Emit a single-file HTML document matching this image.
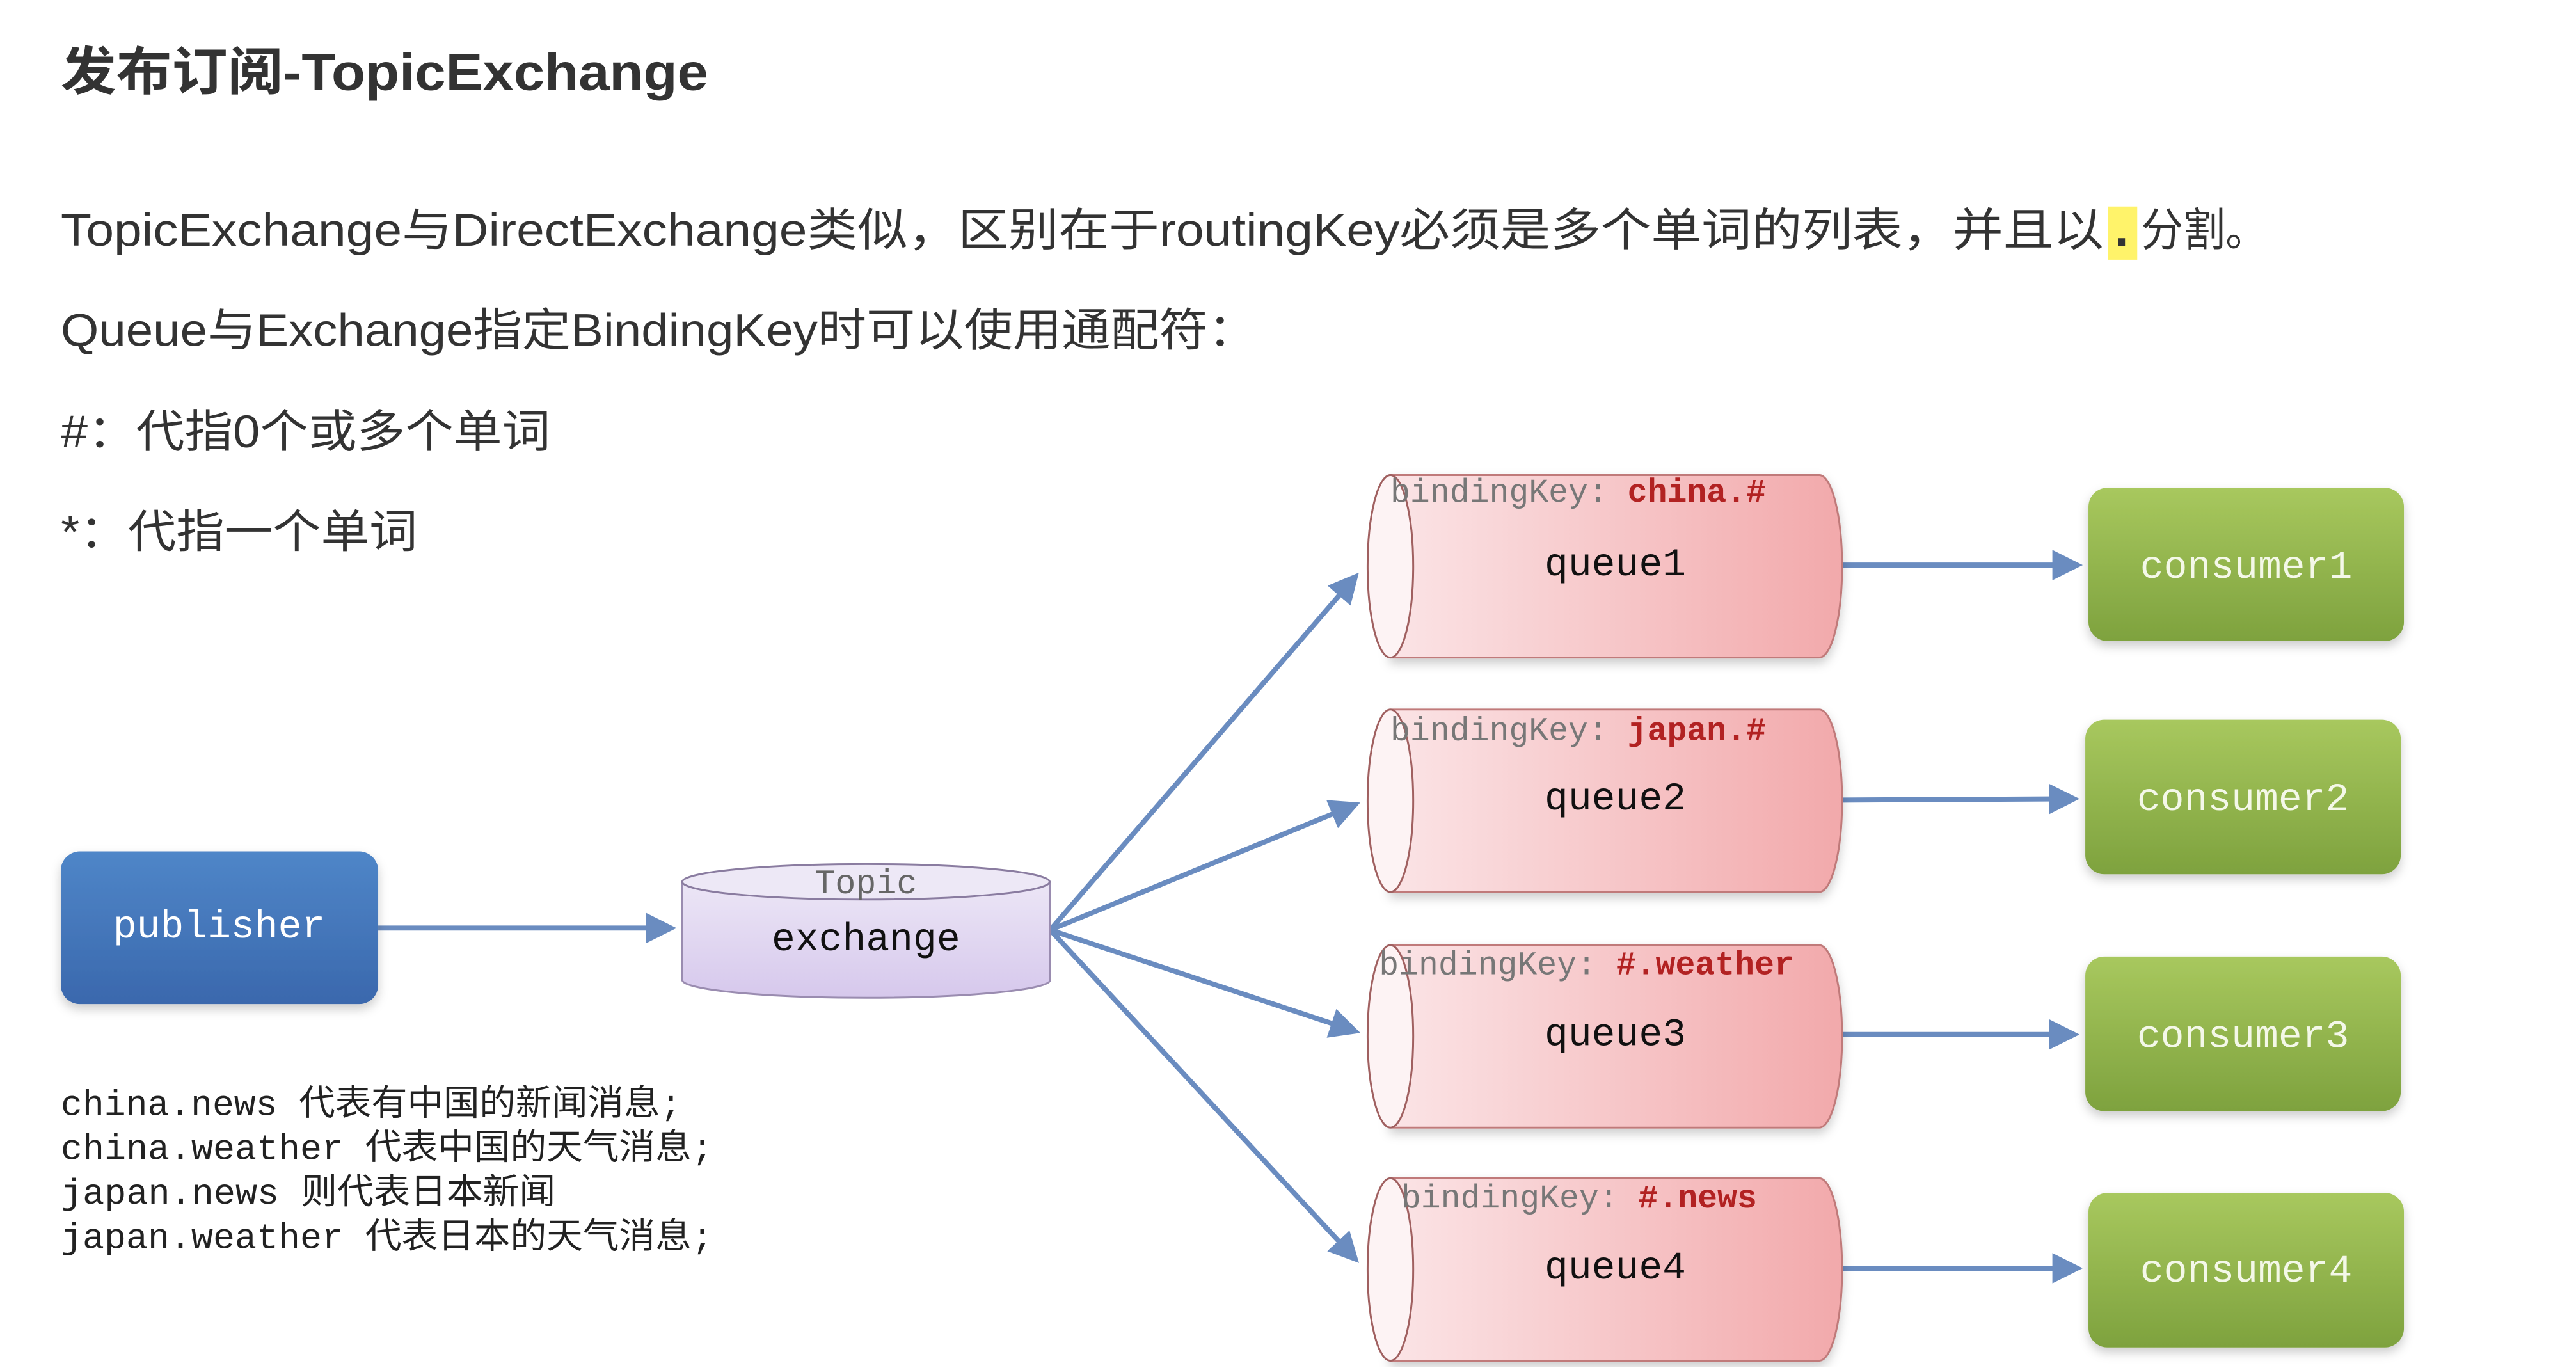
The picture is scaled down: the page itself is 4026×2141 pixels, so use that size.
<!DOCTYPE html>
<html><head><meta charset="utf-8"><style>
html,body{margin:0;padding:0;background:#fff;}
body{width:4026px;height:2136px;overflow:hidden;}
</style></head><body>
<svg width="4026" height="2136" viewBox="0 0 4026 2136" xmlns="http://www.w3.org/2000/svg">
<defs>
<linearGradient id="pub" x1="0" y1="0" x2="0" y2="1"><stop offset="0" stop-color="#4f86c8"/><stop offset="1" stop-color="#3a68ad"/></linearGradient>
<linearGradient id="grn" x1="0" y1="0" x2="0" y2="1"><stop offset="0" stop-color="#a8c85e"/><stop offset="1" stop-color="#7ea23e"/></linearGradient>
<linearGradient id="q" x1="0" y1="0" x2="1" y2="0"><stop offset="0" stop-color="#fbe4e6"/><stop offset="1" stop-color="#f2a9ab"/></linearGradient>
<linearGradient id="ex" x1="0" y1="0" x2="0" y2="1"><stop offset="0" stop-color="#ece6f6"/><stop offset="1" stop-color="#d6c8ec"/></linearGradient>
<marker id="ah" markerWidth="6" markerHeight="6" refX="5" refY="3" orient="auto" markerUnits="strokeWidth"><path d="M0,0 L6,3 L0,6 z" fill="#6a8cc0"/></marker>
<filter id="sh" x="-10%" y="-10%" width="120%" height="130%"><feDropShadow dx="0" dy="8" stdDeviation="8" flood-color="#000" flood-opacity="0.2"/></filter>
</defs>
<g transform="scale(0.99)">
<g font-family="'Liberation Sans','Noto Sans CJK SC',sans-serif" fill="#333">
<text x="96" y="142" font-size="82" font-weight="bold" textLength="1022" lengthAdjust="spacingAndGlyphs">发布订阅-TopicExchange</text>
<rect x="3328" y="326" width="46" height="84" fill="#fff36a"/>
<text x="96" y="388" font-size="72" textLength="3225" lengthAdjust="spacingAndGlyphs">TopicExchange与DirectExchange类似，区别在于routingKey必须是多个单词的列表，并且以</text>
<text x="3338" y="388" font-size="80" font-weight="bold">.</text>
<text x="3380" y="388" font-size="72" textLength="200" lengthAdjust="spacingAndGlyphs">分割。</text>
<text x="96" y="546" font-size="72" textLength="1888" lengthAdjust="spacingAndGlyphs">Queue与Exchange指定BindingKey时可以使用通配符：</text>
<text x="96" y="706" font-size="72" textLength="773" lengthAdjust="spacingAndGlyphs">#：代指0个或多个单词</text>
<text x="96" y="864" font-size="72" textLength="563" lengthAdjust="spacingAndGlyphs">*：代指一个单词</text>
</g>
<g stroke="#6a8cc0" stroke-width="8" fill="none" marker-end="url(#ah)">
<line x1="597" y1="1465" x2="1060" y2="1465"/>
<line x1="1658" y1="1468" x2="2140" y2="910"/>
<line x1="1658" y1="1468" x2="2140" y2="1270"/>
<line x1="1658" y1="1468" x2="2140" y2="1628"/>
<line x1="1658" y1="1468" x2="2140" y2="1988"/>
<line x1="2908" y1="892" x2="3280" y2="892"/>
<line x1="2908" y1="1263" x2="3275" y2="1261"/>
<line x1="2908" y1="1633" x2="3275" y2="1633"/>
<line x1="2908" y1="2002" x2="3280" y2="2002"/>
</g>
<rect x="96" y="1344" width="501" height="241" rx="30" fill="url(#pub)" filter="url(#sh)"/>
<text x="346" y="1480" font-family="'Liberation Mono',monospace" font-size="62" fill="#fff" text-anchor="middle">publisher</text>
<g>
<path d="M1077,1392 L1077,1547 A290,28 0 0 0 1658,1547 L1658,1392 Z" fill="url(#ex)" stroke="#9a8cb0" stroke-width="3"/>
<ellipse cx="1367" cy="1392" rx="290" ry="28" fill="#ede8f6" stroke="#8a7ca0" stroke-width="3"/>
<text x="1367" y="1410" font-family="'Liberation Mono',monospace" font-size="54" fill="#666" text-anchor="middle">Topic</text>
<text x="1367" y="1500" font-family="'Liberation Mono',monospace" font-size="62" fill="#111" text-anchor="middle">exchange</text>
</g>
<g font-family="'Liberation Mono',monospace">
<g transform="translate(0,750)">
<path d="M2195,0 L2872,0 A36,144 0 0 1 2872,288 L2195,288 Z" fill="url(#q)" stroke="#c07a7a" stroke-width="3" filter="url(#sh)"/>
<ellipse cx="2195" cy="144" rx="36" ry="144" fill="#fdf3f4" stroke="#a06060" stroke-width="3"/>
<text x="2195" y="42" font-size="52" fill="#777">bindingKey: <tspan fill="#b22222" font-weight="bold">china.#</tspan></text>
<text x="2550" y="158" font-size="62" fill="#111" text-anchor="middle">queue1</text>
</g>
<g transform="translate(0,1120)">
<path d="M2195,0 L2872,0 A36,144 0 0 1 2872,288 L2195,288 Z" fill="url(#q)" stroke="#c07a7a" stroke-width="3" filter="url(#sh)"/>
<ellipse cx="2195" cy="144" rx="36" ry="144" fill="#fdf3f4" stroke="#a06060" stroke-width="3"/>
<text x="2195" y="48" font-size="52" fill="#777">bindingKey: <tspan fill="#b22222" font-weight="bold">japan.#</tspan></text>
<text x="2550" y="158" font-size="62" fill="#111" text-anchor="middle">queue2</text>
</g>
<g transform="translate(0,1492)">
<path d="M2195,0 L2872,0 A36,144 0 0 1 2872,288 L2195,288 Z" fill="url(#q)" stroke="#c07a7a" stroke-width="3" filter="url(#sh)"/>
<ellipse cx="2195" cy="144" rx="36" ry="144" fill="#fdf3f4" stroke="#a06060" stroke-width="3"/>
<text x="2177" y="46" font-size="52" fill="#777">bindingKey: <tspan fill="#b22222" font-weight="bold">#.weather</tspan></text>
<text x="2550" y="158" font-size="62" fill="#111" text-anchor="middle">queue3</text>
</g>
<g transform="translate(0,1860)">
<path d="M2195,0 L2872,0 A36,144 0 0 1 2872,288 L2195,288 Z" fill="url(#q)" stroke="#c07a7a" stroke-width="3" filter="url(#sh)"/>
<ellipse cx="2195" cy="144" rx="36" ry="144" fill="#fdf3f4" stroke="#a06060" stroke-width="3"/>
<text x="2212" y="46" font-size="52" fill="#777">bindingKey: <tspan fill="#b22222" font-weight="bold">#.news</tspan></text>
<text x="2550" y="158" font-size="62" fill="#111" text-anchor="middle">queue4</text>
</g>
</g>
<g font-family="'Liberation Mono',monospace" font-size="62" fill="#f4f8e8" text-anchor="middle">
<rect x="3297" y="770" width="498" height="242" rx="30" fill="url(#grn)" filter="url(#sh)"/>
<text x="3546" y="912">consumer1</text>
<rect x="3292" y="1136" width="498" height="244" rx="30" fill="url(#grn)" filter="url(#sh)"/>
<text x="3541" y="1279">consumer2</text>
<rect x="3292" y="1510" width="498" height="244" rx="30" fill="url(#grn)" filter="url(#sh)"/>
<text x="3541" y="1653">consumer3</text>
<rect x="3297" y="1883" width="498" height="244" rx="30" fill="url(#grn)" filter="url(#sh)"/>
<text x="3546" y="2023">consumer4</text>
</g>
<g font-family="'Liberation Mono','Noto Sans CJK SC',monospace" font-size="56" fill="#222" lengthAdjust="spacingAndGlyphs">
<text x="96" y="1760" textLength="980" lengthAdjust="spacingAndGlyphs">china.news 代表有中国的新闻消息;</text>
<text x="96" y="1830" textLength="1030" lengthAdjust="spacingAndGlyphs">china.weather 代表中国的天气消息;</text>
<text x="96" y="1900" textLength="781" lengthAdjust="spacingAndGlyphs">japan.news 则代表日本新闻</text>
<text x="96" y="1970" textLength="1030" lengthAdjust="spacingAndGlyphs">japan.weather 代表日本的天气消息;</text>
</g>
</g>
</svg>
</body></html>
